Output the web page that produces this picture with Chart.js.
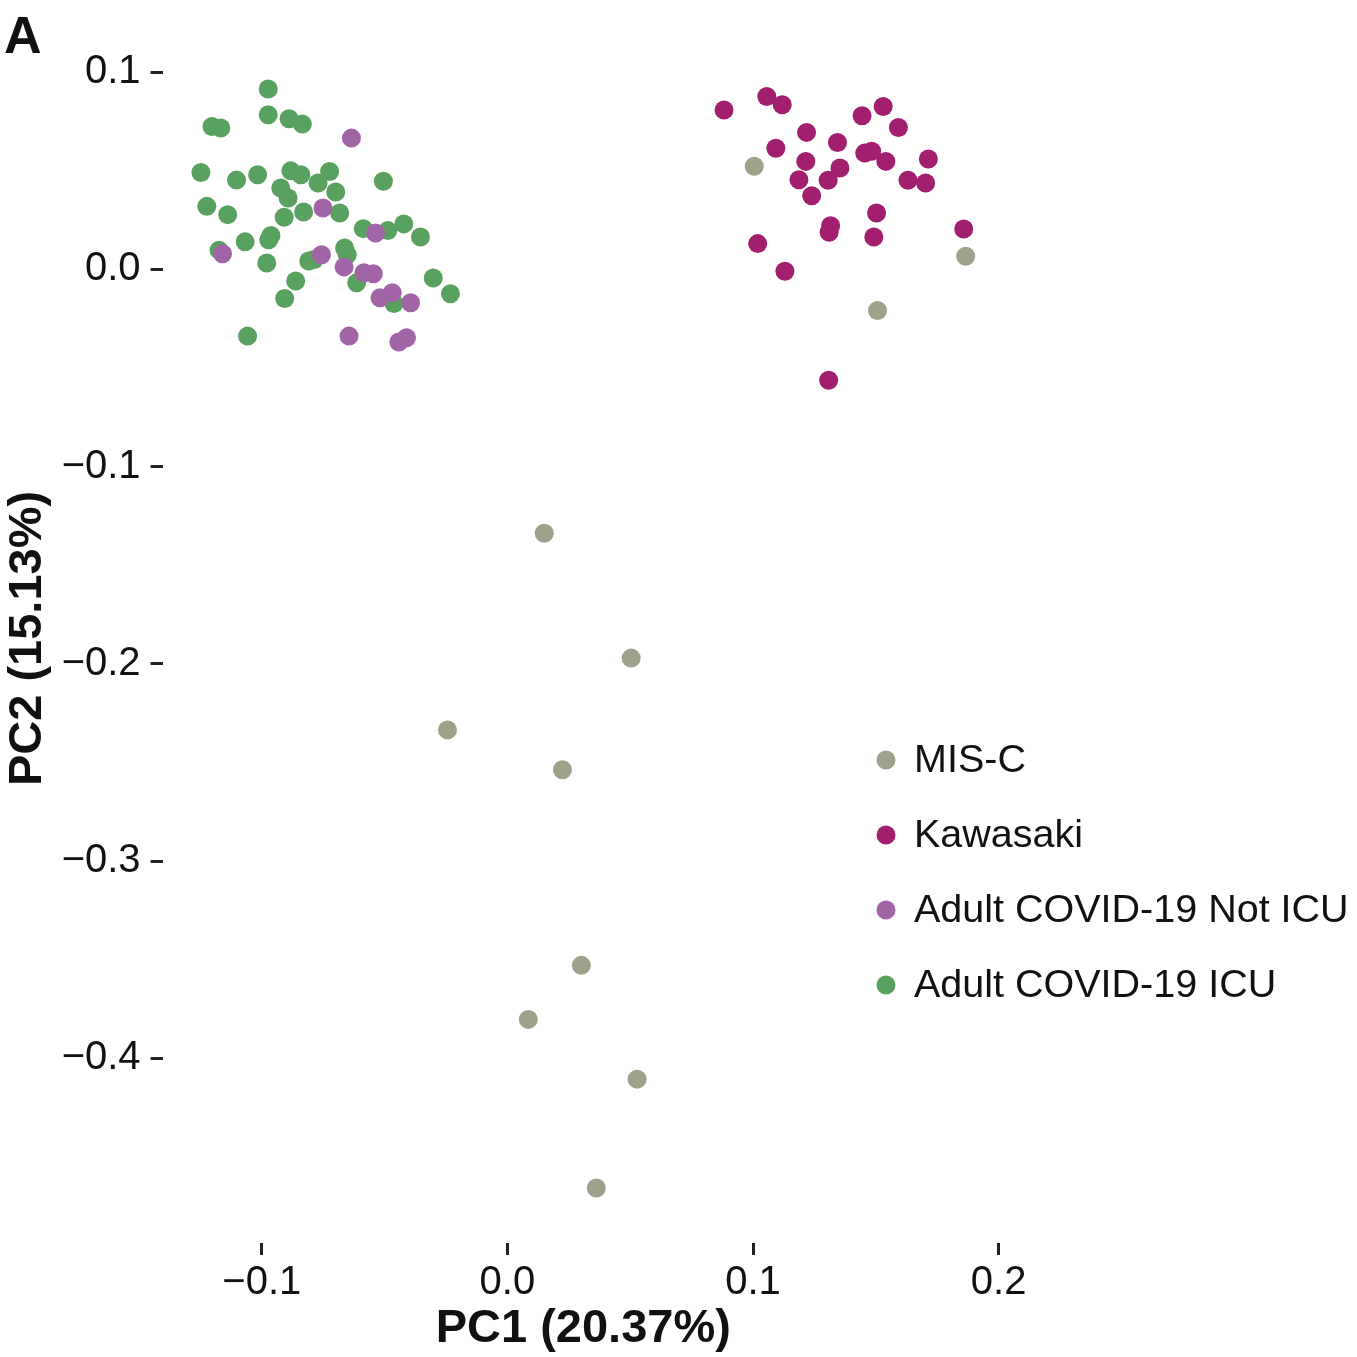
<!DOCTYPE html>
<html>
<head>
<meta charset="utf-8">
<script src="https://cdn.jsdelivr.net/npm/chart.js@4.4.1/dist/chart.umd.min.js"></script>
<style>
  html, body { margin: 0; padding: 0; background: #fff; }
  #wrap { position: relative; width: 1357px; height: 1357px; }
</style>
</head>
<body>
<div id="wrap"><canvas id="pca-chart" width="1357" height="1357"></canvas></div>
<script>
// groups, in legend order
const groups = ["MIS-C", "Kawasaki", "Adult COVID-19 Not ICU", "Adult COVID-19 ICU"];
const groupColors = ["#9fa28b", "#a21f6f", "#a165a7", "#59a15f"];

// PC1 / PC2 scores
const miscX = [0.1005, 0.1866, 0.1507, 0.0150, 0.0504, -0.0244, 0.0224, 0.0301, 0.0085, 0.0528, 0.0362];
const miscY = [0.0523, 0.0067, -0.0208, -0.1338, -0.1971, -0.2335, -0.2537, -0.3529, -0.3803, -0.4106, -0.4658];

const kawasakiX = [0.0882, 0.1056, 0.1119, 0.1218, 0.1093, 0.1344, 0.1444, 0.1530, 0.1592, 0.1215,
  0.1187, 0.1354, 0.1306, 0.1239, 0.1455, 0.1483, 0.1541, 0.1714, 0.1631, 0.1703,
  0.1503, 0.1316, 0.1310, 0.1492, 0.1019, 0.1130, 0.1858, 0.1308];
const kawasakiY = [0.0809, 0.0877, 0.0835, 0.0695, 0.0615, 0.0644, 0.0779, 0.0826, 0.0720, 0.0548,
  0.0455, 0.0514, 0.0452, 0.0374, 0.0590, 0.0599, 0.0548, 0.0560, 0.0452, 0.0438,
  0.0286, 0.0222, 0.0189, 0.0165, 0.0131, -0.0009, 0.0205, -0.0562];

const notIcuX = [-0.0635, -0.0751, -0.0537, -0.1160, -0.0757, -0.0665, -0.0584, -0.0546, -0.0519, -0.0469,
  -0.0394, -0.0645, -0.0442, -0.0411];
const notIcuY = [0.0666, 0.0312, 0.0185, 0.0080, 0.0075, 0.0013, -0.0017, -0.0022, -0.0144, -0.0118,
  -0.0169, -0.0338, -0.0368, -0.0346];

const icuX = [-0.0974, -0.0974, -0.1203, -0.1167, -0.0889, -0.0835, -0.1248, -0.1103, -0.1017, -0.0882,
  -0.0841, -0.0724, -0.0771, -0.0699, -0.0505, -0.0923, -0.0893, -0.1224, -0.1139, -0.0909,
  -0.0830, -0.0683, -0.0587, -0.0487, -0.0422, -0.0354, -0.1068, -0.0963, -0.0972, -0.1174,
  -0.0980, -0.0787, -0.0809, -0.0663, -0.0652, -0.0862, -0.0614, -0.0907, -0.0462, -0.0302,
  -0.0232, -0.1058];
const icuY = [0.0915, 0.0784, 0.0725, 0.0717, 0.0764, 0.0737, 0.0492, 0.0453, 0.0480, 0.0500,
  0.0480, 0.0497, 0.0438, 0.0393, 0.0447, 0.0413, 0.0362, 0.0320, 0.0278, 0.0265,
  0.0291, 0.0286, 0.0207, 0.0197, 0.0231, 0.0165, 0.0140, 0.0172, 0.0150, 0.0098,
  0.0033, 0.0050, 0.0043, 0.0109, 0.0075, -0.0059, -0.0068, -0.0147, -0.0173, -0.0043,
  -0.0123, -0.0338];

// axis ticks
const xTicks = [-0.1, 0.0, 0.1, 0.2];
const yTicks = [0.1, 0.0, -0.1, -0.2, -0.3, -0.4];

const xTitle = "PC1 (20.37%)";
const yTitle = "PC2 (15.13%)";

const FONT = "'Liberation Sans', Arial, Helvetica, sans-serif";

function toPoints(xs, ys) {
  return xs.map((x, i) => ({ x: x, y: ys[i] }));
}

function fmtTick(v) {
  const s = Math.abs(v).toFixed(1);
  return v < -1e-9 ? "\u2212" + s : s;
}

const seriesXY = [[miscX, miscY], [kawasakiX, kawasakiY], [notIcuX, notIcuY], [icuX, icuY]];

const data = {
  datasets: groups.map((g, i) => ({
    label: g,
    data: toPoints(seriesXY[i][0], seriesXY[i][1]),
    backgroundColor: groupColors[i],
    borderWidth: 0,
    pointRadius: 9.5,
    pointHoverRadius: 9.5,
  })),
};

// legend inside the panel + the panel letter
const extrasPlugin = {
  id: "extras",
  afterDraw(chart) {
    const ctx = chart.ctx;
    ctx.save();
    ctx.fillStyle = "#111";
    ctx.font = "bold 52px " + FONT;
    ctx.textBaseline = "alphabetic";
    ctx.textAlign = "left";
    ctx.fillText("A", 4, 53);

    ctx.font = "39.5px " + FONT;
    ctx.textBaseline = "middle";
    groups.forEach((g, i) => {
      const y = 760 + i * 75;
      ctx.beginPath();
      ctx.arc(886, y, 9.5, 0, Math.PI * 2);
      ctx.fillStyle = groupColors[i];
      ctx.fill();
      ctx.fillStyle = "#111";
      ctx.fillText(g, 914, y + 1);
    });
    ctx.restore();
  },
};

const tickGrid = {
  display: true,
  drawOnChartArea: false,
  drawTicks: true,
  tickLength: 12,
  tickWidth: 3,
  tickColor: "#222",
};

new Chart(document.getElementById("pca-chart"), {
  type: "scatter",
  data: data,
  plugins: [extrasPlugin],
  options: {
    responsive: false,
    animation: false,
    events: [],
    layout: { padding: { left: 0, top: 28.7, right: 353, bottom: 0 } },
    plugins: {
      legend: { display: false },
      tooltip: { enabled: false },
    },
    scales: {
      x: {
        type: "linear",
        min: -0.1404,
        max: 0.2022,
        border: { display: false },
        grid: tickGrid,
        afterBuildTicks: (scale) => { scale.ticks = xTicks.map((v) => ({ value: v })); },
        afterFit: (scale) => { scale.height = 114; },
        ticks: {
          color: "#111",
          font: { family: FONT, size: 40 },
          padding: 4,
          maxRotation: 0,
          callback: (v) => fmtTick(v),
        },
        title: {
          display: true,
          text: xTitle,
          color: "#111",
          font: { family: FONT, size: 47, weight: "bold" },
          padding: { top: 0, bottom: 0 },
        },
      },
      y: {
        type: "linear",
        min: -0.4937,
        max: 0.1194,
        border: { display: false },
        grid: tickGrid,
        afterBuildTicks: (scale) => { scale.ticks = yTicks.map((v) => ({ value: v })); },
        afterFit: (scale) => { scale.width = 162.6; },
        ticks: {
          color: "#111",
          font: { family: FONT, size: 40 },
          padding: 10,
          callback: (v) => fmtTick(v),
        },
        title: {
          display: true,
          text: yTitle,
          color: "#111",
          font: { family: FONT, size: 47, weight: "bold" },
          padding: { top: 0, bottom: 0 },
        },
      },
    },
  },
});
</script>
</body>
</html>
